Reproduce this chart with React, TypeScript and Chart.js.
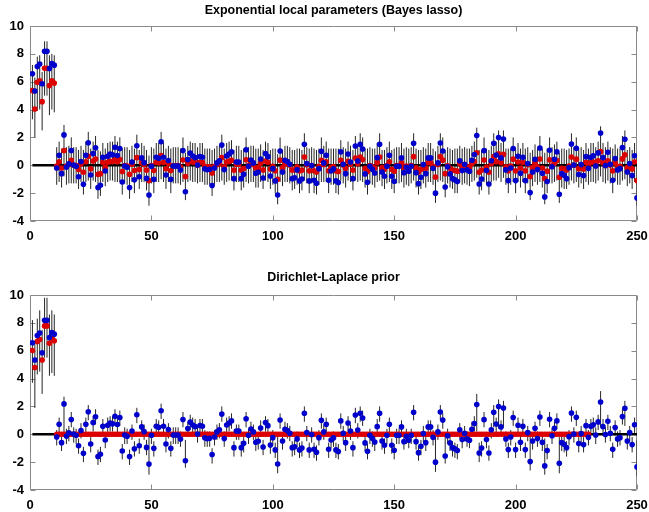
import React, { useEffect, useRef } from "react";
import { Chart, registerables } from "chart.js";

Chart.register(...registerables);

const xTicks = [0, 50, 100, 150, 200, 250];
const yTicks = [-4, -2, 0, 2, 4, 6, 8, 10];
const titleExp = "Exponential local parameters (Bayes lasso)";
const titleDL = "Dirichlet-Laplace prior";

// observed values (blue), indices 1..250
const observed = [
  6.57,5.33,7.09,7.27,5.85,8.18,8.18,6.95,7.31,7.19,
  -0.2,0.72,-0.6,2.18,-0.13,0.1,1.06,0.02,-0.07,-0.82,
  0.27,-1.36,0.72,1.62,-0.7,0.84,1.26,-1.6,-1.43,0.57,
  -0.41,0.65,0.8,0.75,1.3,0.7,1.2,-1.2,-0.05,-0.14,
  -1.59,0.24,-1.04,1.4,-0.82,0.53,0.19,-0.94,-2.14,-0.07,
  -1.01,0.58,0.5,1.69,0.58,-0.7,0.34,-1.01,-0.05,-0.05,
  -0.05,-0.34,1.06,-1.9,0.41,0.87,0.67,0.55,0.02,0.63,
  0.58,-0.25,-0.32,-0.28,-1.45,-0.2,0.17,0.33,1.45,-0.31,
  0.67,0.81,0.96,-0.96,0.24,0.24,-0.96,-0.65,1.12,-0.07,
  0.38,0.17,-0.57,-0.5,0.45,-0.91,0.84,0.62,-0.77,-0.24,
  -1.12,-2.13,1.03,-0.48,0.36,0.26,0.07,-0.96,-0.89,-0.33,
  -1.12,-0.98,1.51,0.12,-1.12,-0.02,-1.08,-1.29,-0.24,1.0,
  0.17,0.72,-1.08,-0.41,-0.26,-1.12,-1.24,0.96,0.07,-0.6,
  0.81,0.24,-0.96,1.39,0.31,1.51,1.17,-0.62,-1.22,-0.07,
  -0.29,-0.55,0.55,1.51,-0.48,-0.79,-0.07,0.72,-0.79,-1.15,
  -0.07,-0.07,0.53,-0.53,-0.14,-0.43,-0.07,1.58,-0.53,-1.32,
  -0.86,0.05,-0.6,0.53,0.53,-0.22,-2.0,0.17,1.6,1.03,
  -1.56,-0.1,-0.62,-0.96,-1.05,-1.17,0.33,-0.38,0.07,-0.33,
  -0.43,0.36,0.77,2.13,-1.34,-0.98,1.05,-0.38,-1.34,0.33,
  1.58,0.74,1.99,0.53,1.89,-0.33,-1.1,-0.19,1.2,-1.1,
  0.65,-0.57,0.57,-1.1,0.12,-1.96,-0.48,0.43,-0.31,1.24,
  -0.57,-2.27,-1.17,1.08,-0.1,0.43,0.96,-2.08,-0.6,-0.72,
  -0.96,-0.17,1.53,0.02,1.22,-0.67,0.05,-0.74,0.62,-0.22,
  0.57,0.69,-0.05,0.89,2.32,0.55,-0.02,0.93,0.07,-1.08,
  0.48,-0.33,-0.24,1.27,1.87,-0.48,0.12,-0.74,0.69,-2.34,
];

// posterior means (red), exponential / Bayes lasso
const meanExp = [
  5.36,4.04,5.96,6.07,4.57,6.97,6.97,5.72,6.07,5.9,
  -0.05,0.25,-0.2,1.05,-0.05,0.05,0.35,0,-0.02,-0.3,
  0.1,-0.5,0.25,0.65,-0.25,0.3,0.45,-0.65,-0.6,0.2,
  -0.15,0.22,0.28,0.26,0.45,0.25,0.42,-0.45,-0.02,-0.05,
  -0.65,0.08,-0.38,0.55,-0.3,0.18,0.06,-0.35,-1.1,-0.02,
  -0.38,0.2,0.18,0.7,0.2,-0.25,0.12,-0.38,-0.02,-0.02,
  -0.02,-0.12,0.38,-0.8,0.14,0.3,0.23,0.2,0,0.22,
  0.2,-0.08,-0.11,-0.1,-0.55,-0.07,0.06,0.11,0.55,-0.11,
  0.23,0.28,0.35,-0.35,0.08,0.08,-0.35,-0.23,0.4,-0.02,
  0.13,0.06,-0.2,-0.17,0.15,-0.33,0.3,0.22,-0.27,-0.08,
  -0.4,-1.0,0.37,-0.17,0.12,0.09,0.02,-0.35,-0.32,-0.11,
  -0.4,-0.35,0.6,0.04,-0.4,-0.01,-0.39,-0.48,-0.08,0.36,
  0.06,0.25,-0.39,-0.14,-0.09,-0.4,-0.45,0.35,0.02,-0.21,
  0.29,0.08,-0.35,0.52,0.11,0.6,0.42,-0.22,-0.45,-0.02,
  -0.1,-0.19,0.19,0.6,-0.17,-0.28,-0.02,0.25,-0.28,-0.42,
  -0.02,-0.02,0.18,-0.18,-0.05,-0.15,-0.02,0.62,-0.18,-0.48,
  -0.3,0.02,-0.21,0.18,0.18,-0.08,-0.85,0.06,0.62,0.37,
  -0.6,-0.03,-0.22,-0.34,-0.37,-0.42,0.11,-0.13,0.02,-0.11,
  -0.15,0.12,0.27,0.9,-0.5,-0.35,0.38,-0.13,-0.5,0.11,
  0.62,0.26,0.82,0.18,0.78,-0.11,-0.4,-0.06,0.44,-0.4,
  0.23,-0.2,0.2,-0.4,0.04,-0.8,-0.17,0.15,-0.11,0.45,
  -0.2,-0.95,-0.42,0.39,-0.03,0.15,0.34,-0.86,-0.21,-0.25,
  -0.34,-0.06,0.6,0.01,0.44,-0.24,0.02,-0.26,0.22,-0.08,
  0.2,0.24,-0.02,0.32,0.98,0.19,-0.01,0.33,0.02,-0.39,
  0.17,-0.11,-0.08,0.46,0.75,-0.17,0.04,-0.26,0.24,-1.1,
];

const loExp = [
  3.3,2.0,3.9,4.0,2.5,5.0,5.0,3.6,4.0,3.8,
  -1.4,-1.2,-1.6,-0.8,-1.4,-1.3,-1.3,-1.3,-1.3,-1.7,
  -1.2,-2.1,-1.2,-1.1,-1.7,-1.1,-1.2,-2.4,-2.2,-1.2,
  -1.5,-1.2,-1.1,-1.1,-1.2,-1.2,-1.2,-2.1,-1.3,-1.4,
  -2.4,-1.2,-2.0,-1.1,-1.7,-1.2,-1.2,-1.8,-2.9,-1.3,
  -2.0,-1.2,-1.2,-1.0,-1.2,-1.7,-1.2,-2.0,-1.3,-1.3,
  -1.3,-1.4,-1.2,-2.5,-1.2,-1.1,-1.2,-1.2,-1.3,-1.2,
  -1.2,-1.4,-1.4,-1.4,-2.2,-1.4,-1.2,-1.2,-1.1,-1.4,
  -1.2,-1.1,-1.1,-1.8,-1.2,-1.2,-1.8,-1.6,-1.2,-1.3,
  -1.2,-1.2,-1.6,-1.6,-1.2,-1.7,-1.1,-1.2,-1.7,-1.4,
  -2.0,-2.8,-1.2,-1.5,-1.2,-1.2,-1.3,-1.8,-1.7,-1.4,
  -2.0,-1.8,-1.1,-1.3,-2.0,-1.3,-2.0,-2.1,-1.4,-1.2,
  -1.2,-1.2,-2.0,-1.4,-1.4,-2.0,-2.1,-1.1,-1.3,-1.6,
  -1.1,-1.2,-1.8,-1.1,-1.2,-1.1,-1.2,-1.6,-2.1,-1.3,
  -1.4,-1.6,-1.2,-1.1,-1.5,-1.7,-1.3,-1.2,-1.7,-2.0,
  -1.3,-1.3,-1.2,-1.6,-1.4,-1.5,-1.3,-1.1,-1.6,-2.1,
  -1.7,-1.3,-1.6,-1.2,-1.2,-1.4,-2.7,-1.2,-1.1,-1.2,
  -2.3,-1.3,-1.6,-1.7,-2.0,-2.0,-1.2,-1.4,-1.3,-1.4,
  -1.5,-1.2,-1.1,-0.9,-2.1,-1.8,-1.2,-1.4,-2.1,-1.2,
  -1.1,-1.1,-0.9,-1.2,-0.9,-1.4,-2.0,-1.4,-1.2,-2.0,
  -1.2,-1.6,-1.2,-2.0,-1.3,-2.5,-1.5,-1.2,-1.4,-1.2,
  -1.6,-2.8,-2.0,-1.2,-1.3,-1.2,-1.1,-2.7,-1.6,-1.7,
  -1.7,-1.4,-1.1,-1.3,-1.2,-1.6,-1.3,-1.7,-1.2,-1.4,
  -1.2,-1.2,-1.3,-1.1,-0.8,-1.2,-1.3,-1.1,-1.3,-2.0,
  -1.1,-1.4,-1.4,-1.1,-1.0,-1.5,-1.3,-1.7,-1.2,-2.9,
];

const hiExp = [
  7.2,6.3,7.8,7.9,6.7,8.9,8.9,7.9,8.0,7.9,
  1.3,1.7,1.2,2.9,1.3,1.4,2.0,1.3,1.3,1.1,
  1.4,1.1,1.7,2.4,1.2,1.7,2.1,1.1,1.0,1.6,
  1.2,1.6,1.7,1.7,2.1,1.7,2.0,1.2,1.3,1.3,
  1.1,1.4,1.2,2.2,1.1,1.6,1.4,1.1,0.7,1.3,
  1.2,1.6,1.6,2.4,1.6,1.2,1.4,1.2,1.3,1.3,
  1.3,1.2,2.0,0.9,1.4,1.7,1.6,1.6,1.3,1.6,
  1.6,1.2,1.2,1.2,1.1,1.2,1.4,1.4,2.2,1.2,
  1.6,1.7,1.8,1.1,1.4,1.4,1.1,1.2,2.0,1.3,
  1.4,1.4,1.2,1.2,1.5,1.1,1.7,1.6,1.1,1.2,
  1.2,0.8,2.0,1.1,1.4,1.4,1.3,1.1,1.1,1.2,
  1.2,1.1,2.3,1.3,1.2,1.3,1.2,1.1,1.2,2.0,
  1.4,1.7,1.2,1.2,1.2,1.2,1.2,1.8,1.3,1.2,
  1.7,1.4,1.1,2.1,1.4,2.3,2.0,1.2,1.2,1.3,
  1.2,1.2,1.6,2.3,1.1,1.1,1.3,1.7,1.1,1.2,
  1.3,1.3,1.6,1.2,1.3,1.2,1.3,2.3,1.2,1.1,
  1.1,1.3,1.2,1.6,1.6,1.2,1.0,1.4,2.3,2.0,
  1.1,1.3,1.2,1.1,1.2,1.2,1.4,1.2,1.3,1.2,
  1.2,1.4,1.7,2.7,1.1,1.1,2.0,1.2,1.1,1.4,
  2.3,1.7,2.5,1.6,2.5,1.2,1.2,1.2,2.0,1.2,
  1.6,1.2,1.6,1.2,1.3,0.9,1.1,1.5,1.2,2.1,
  1.2,0.9,1.2,2.0,1.3,1.5,1.7,0.9,1.2,1.2,
  1.1,1.2,2.3,1.3,2.0,1.2,1.3,1.1,1.6,1.2,
  1.6,1.6,1.3,1.7,2.8,1.6,1.3,1.7,1.3,1.2,
  1.5,1.2,1.2,2.1,2.5,1.1,1.3,1.1,1.6,0.7,
];

// posterior means (red), Dirichlet-Laplace
const meanDL = [
  6.02,4.8,6.67,6.8,5.33,7.78,7.78,6.53,6.9,6.72,
  0,0,0,0,0,0,0,0,0,0, 0,0,0,0,0,0,0,0,0,0,
  0,0,0,0,0,0,0,0,0,0, 0,0,0,0,0,0,0,0,0,0,
  0,0,0,0,0,0,0,0,0,0, 0,0,0,0,0,0,0,0,0,0,
  0,0,0,0,0,0,0,0,0,0, 0,0,0,0,0,0,0,0,0,0,
  0,0,0,0,0,0,0,0,0,0, 0,0,0,0,0,0,0,0,0,0,
  0,0,0,0,0,0,0,0,0,0, 0,0,0,0,0,0,0,0,0,0,
  0,0,0,0,0,0,0,0,0,0, 0,0,0,0,0,0,0,0,0,0,
  0,0,0,0,0,0,0,0,0,0, 0,0,0,0,0,0,0,0,0,0,
  0,0,0,0,0,0,0,0,0,0, 0,0,0,0,0,0,0,0,0,0,
  0,0,0,0,0,0,0,0,0,0, 0,0,0,0,0,0,0,0,0,0,
  0,0,0,0,0,0,0,0,0,0, 0,0,0,0,0,0,0,0,0,0,
];

const loDL = [
  3.7,1.9,4.3,4.5,2.9,5.5,5.5,4.2,4.4,4.2,
  -0.8,0.1,-1.2,0,-0.7,-0.5,0.5,-0.6,-0.7,-1.4,
  -0.3,-2.0,0.1,1.0,-1.3,0.2,0.7,-2.2,-2.0,0.0,
  -1.0,0.1,0.2,0.2,0.7,0.1,0.6,-1.8,-0.7,-0.7,
  -2.2,-0.4,-1.6,0.8,-1.4,-0.1,-0.4,-1.5,-2.9,-0.7,
  -1.6,0.0,-0.1,1.1,0.0,-1.3,-0.3,-1.6,-0.7,-0.7,
  -0.7,-0.9,0.5,-2.4,-0.2,0.3,0.1,0.0,-0.6,0.0,
  0.0,-0.9,-0.9,-0.9,-2.1,-0.8,-0.4,-0.3,0.9,-0.9,
  0.1,0.2,0.4,-1.6,-0.4,-0.4,-1.6,-1.3,0.5,-0.7,
  -0.2,-0.4,-1.2,-1.1,-0.2,-1.5,0.2,0.0,-1.4,-0.8,
  -1.7,-2.8,0.4,-1.1,-0.2,-0.3,-0.5,-1.6,-1.5,-0.9,
  -1.7,-1.6,0.9,-0.5,-1.7,-0.6,-1.7,-1.9,-0.8,0.4,
  -0.4,0.1,-1.7,-1.0,-0.9,-1.7,-1.8,0.4,-0.5,-1.2,
  0.2,-0.4,-1.6,0.8,-0.3,0.9,0.6,-1.2,-1.8,-0.7,
  -0.9,-1.2,-0.1,0.9,-1.1,-1.4,-0.7,0.1,-1.4,-1.8,
  -0.7,-0.7,-0.1,-1.1,-0.7,-1.0,-0.7,1.0,-1.1,-1.9,
  -1.5,-0.6,-1.2,-0.1,-0.1,-0.8,-2.7,-0.4,1.0,0.4,
  -2.1,-0.7,-1.2,-1.6,-1.7,-1.8,-0.3,-1.0,-0.5,-0.9,
  -1.0,-0.2,0.2,0.2,-2.0,-1.6,0.5,-1.0,-1.9,-0.3,
  0.5,0.1,0.4,-0.1,0.5,-0.9,-1.7,-0.8,0.6,-1.7,
  0.0,-1.2,0.0,-1.7,-0.5,-2.6,-1.1,-0.2,-0.9,0.6,
  -1.2,-2.9,-1.8,0.5,-0.7,-0.2,0.4,-2.8,-1.2,-1.3,
  -1.6,-0.8,0.9,-0.6,0.6,-1.3,-0.6,-1.3,0.0,-0.8,
  0.0,0.1,-0.7,0.3,0.5,-0.1,-0.6,0.3,-0.5,-1.7,
  -0.1,-0.9,-0.8,0.7,0.6,-1.1,-0.5,-1.3,0.1,-3.0,
];

const hiDL = [
  8.2,6.7,8.3,8.9,7.5,9.8,9.8,8.6,8.9,8.6,
  0.3,1.2,-0.1,2.7,0.4,0.6,1.6,0.5,0.4,-0.3,
  0.8,-0.9,1.2,2.1,-0.2,1.3,1.8,-1.1,-0.9,1.1,
  0.1,1.2,1.3,1.3,1.8,1.2,1.7,-0.7,0.5,0.4,
  -1.1,0.7,-0.5,1.9,-0.3,1.0,0.7,-0.4,0.0,0.4,
  -0.5,1.1,1.0,2.2,1.1,-0.2,0.8,-0.5,0.5,0.5,
  0.5,0.2,1.6,-0.4,0.9,1.4,1.2,1.1,0.5,1.1,
  1.1,0.3,0.2,0.2,-1.0,0.3,0.7,0.8,2.0,0.2,
  1.2,1.3,1.5,-0.5,0.7,0.7,-0.5,-0.2,1.6,0.4,
  0.9,0.7,-0.1,0.0,1.0,-0.4,1.3,1.1,-0.3,0.3,
  -0.6,0.0,1.5,0.0,0.9,0.8,0.6,-0.5,-0.4,0.2,
  -0.6,-0.5,2.0,0.6,-0.6,0.5,-0.6,-0.8,0.3,1.5,
  0.7,1.2,-0.6,0.1,0.2,-0.6,-0.7,1.5,0.6,-0.1,
  1.3,0.7,-0.5,1.9,0.8,2.0,1.7,-0.1,-0.7,0.4,
  0.2,0.0,1.1,2.0,0.0,-0.3,0.4,1.2,-0.3,-0.7,
  0.4,0.4,1.0,0.0,0.4,0.1,0.4,2.1,0.0,-0.8,
  -0.4,0.6,-0.1,1.0,1.0,0.3,0.2,0.7,2.1,1.5,
  -0.1,0.4,-0.1,-0.5,-0.6,-0.7,0.8,0.1,0.6,0.2,
  0.1,0.9,1.3,2.9,-0.6,-0.5,1.6,0.1,-0.8,0.8,
  2.1,1.2,2.5,1.0,2.4,0.2,-0.6,0.3,1.7,-0.6,
  1.2,-0.1,1.1,-0.6,0.6,-0.1,0.0,0.9,0.2,1.7,
  -0.1,-0.3,-0.7,1.6,0.4,0.9,1.5,-0.2,-0.1,-0.2,
  -0.5,0.3,2.0,0.5,1.7,-0.2,0.6,-0.2,1.1,0.3,
  1.1,1.2,0.5,1.4,3.1,1.1,0.5,1.4,0.6,-0.6,
  1.0,0.2,0.3,1.8,2.4,0.0,0.6,-0.2,1.2,-0.4,
];

const FONT = '"Liberation Sans", Arial, Helvetica, sans-serif';
const FRAME = "#8a8a8a";

function pts(vals: number[]) {
  return vals.map((v, k) => ({ x: k + 1, y: v }));
}
function barPts(lo: number[], hi: number[]) {
  const out: any[] = [];
  for (let k = 0; k < lo.length; k++) {
    out.push({ x: k + 1, y: lo[k] }, { x: k + 1, y: hi[k] }, { x: k + 1, y: null });
  }
  return out;
}

const framePlugin = {
  id: "frame",
  beforeDatasetsDraw(chart: any) {
    const { ctx, chartArea: a, scales } = chart;
    const x = scales.x, y = scales.y;
    ctx.save();
    ctx.strokeStyle = FRAME;
    ctx.lineWidth = 1;
    const L = Math.round(a.left) + 0.5, R = Math.round(a.right) - 0.5;
    const T = Math.round(a.top) + 0.5, B = Math.round(a.bottom) - 0.5;
    ctx.beginPath();
    ctx.rect(L, T, R - L, B - T);
    ctx.stroke();
    ctx.beginPath();
    for (const t of xTicks) {
      const px = Math.round(x.getPixelForValue(t)) + 0.5;
      ctx.moveTo(px, B); ctx.lineTo(px, B - 5);
      ctx.moveTo(px, T); ctx.lineTo(px, T + 5);
    }
    for (const t of yTicks) {
      const py = Math.round(y.getPixelForValue(t)) + 0.5;
      ctx.moveTo(L, py); ctx.lineTo(L + 5, py);
      ctx.moveTo(R, py); ctx.lineTo(R - 5, py);
    }
    ctx.stroke();
    ctx.restore();
  },
  afterDraw(chart: any) {
    const o = chart.options.plugins.frame;
    const { ctx, chartArea: a } = chart;
    ctx.save();
    ctx.font = `bold 12.5px ${FONT}`;
    ctx.fillStyle = "#000";
    ctx.textAlign = "center";
    ctx.textBaseline = "middle";
    ctx.fillText(o.title, (a.left + a.right) / 2, o.titleY);
    ctx.restore();
  },
};

type PanelProps = {
  title: string;
  mean: number[];
  lo: number[];
  hi: number[];
  height: number;
  padTop: number;
  axisH: number;
  titleY: number;
};

function Panel({ title, mean, lo, hi, height, padTop, axisH, titleY }: PanelProps) {
  const ref = useRef<HTMLCanvasElement | null>(null);
  useEffect(() => {
    if (!ref.current) return;
    const chart = new Chart(ref.current, {
      type: "scatter",
      data: {
        datasets: [
          {
            label: "observed",
            data: pts(observed),
            backgroundColor: "#0000cc",
            borderWidth: 0,
            pointRadius: 2.8,
            showLine: false,
          } as any,
          {
            label: "mean",
            data: pts(mean),
            backgroundColor: "#dd0000",
            borderWidth: 0,
            pointRadius: 2.8,
            showLine: false,
          } as any,
          {
            label: "zero",
            data: [{ x: 1, y: 0 }, { x: 250, y: 0 }],
            borderColor: "#000",
            borderWidth: 2.5,
            pointRadius: 0,
            showLine: true,
          } as any,
          {
            label: "interval",
            data: barPts(lo, hi),
            borderColor: "#262626",
            borderWidth: 1,
            pointRadius: 0,
            showLine: true,
            spanGaps: false,
          } as any,
        ],
      },
      options: {
        responsive: false,
        animation: false,
        events: [],
        layout: { padding: { top: padTop, left: 0, right: 12, bottom: 0 } },
        plugins: {
          legend: { display: false },
          tooltip: { enabled: false },
          title: { display: false },
          frame: { title, titleY },
        } as any,
        scales: {
          x: {
            type: "linear",
            min: 0,
            max: 250,
            grid: { display: false, drawTicks: false },
            border: { display: false },
            afterBuildTicks: (s: any) => { s.ticks = xTicks.map((v) => ({ value: v })); },
            afterFit: (s: any) => { s.height = axisH; s.paddingLeft = 0; s.paddingRight = 0; },
            ticks: { color: "#000", padding: 8, font: { family: FONT, size: 13, weight: "bold" }, maxRotation: 0 },
          },
          y: {
            type: "linear",
            min: -4,
            max: 10,
            grid: { display: false, drawTicks: false },
            border: { display: false },
            afterBuildTicks: (s: any) => { s.ticks = yTicks.map((v) => ({ value: v })); },
            afterFit: (s: any) => { s.width = 30; s.paddingTop = 0; s.paddingBottom = 0; },
            ticks: { color: "#000", padding: 6, font: { family: FONT, size: 13, weight: "bold" } },
          },
        },
      },
      plugins: [framePlugin],
    });
    return () => chart.destroy();
  }, []);
  return <canvas ref={ref} width={649} height={height} style={{ display: "block", width: 649, height }} />;
}

export default function App() {
  return (
    <div style={{ position: "absolute", left: 0, top: 0, width: 649, height: 512, background: "#fff" }}>
      <div style={{ position: "absolute", left: 0, top: 0 }}>
        <Panel title={titleExp} mean={meanExp} lo={loExp} hi={hiExp} height={256} padTop={26} axisH={35} titleY={11} />
      </div>
      <div style={{ position: "absolute", left: 0, top: 256 }}>
        <Panel title={titleDL} mean={meanDL} lo={loDL} hi={hiDL} height={256} padTop={39} axisH={22} titleY={22} />
      </div>
    </div>
  );
}
